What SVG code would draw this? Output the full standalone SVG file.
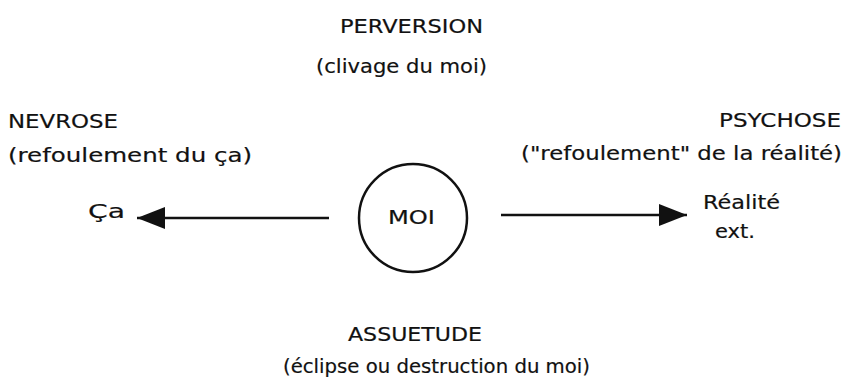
<svg xmlns="http://www.w3.org/2000/svg" width="848" height="389" viewBox="0 0 848 389">
  <style>
    text { font-family: "DejaVu Sans", "Liberation Sans", sans-serif; font-size: 20px; fill: #111; stroke: #111; stroke-width: 0.2; }
    .edge { stroke: #111; stroke-width: 2.5; fill: none; }
  </style>
  <defs>
    <marker id="head" markerUnits="userSpaceOnUse" markerWidth="28" markerHeight="24" refX="28" refY="12" orient="auto">
      <path d="M0,1 L28,12 L0,23 Z" fill="#111"/>
    </marker>
  </defs>
  <rect width="848" height="389" fill="#fff"/>

  <g id="perversion">
    <text x="340" y="33" textLength="143" lengthAdjust="spacingAndGlyphs">PERVERSION</text>
    <text x="316" y="73" textLength="171" lengthAdjust="spacingAndGlyphs">(clivage du moi)</text>
  </g>

  <g id="nevrose">
    <text x="8" y="128" textLength="110" lengthAdjust="spacingAndGlyphs">NEVROSE</text>
    <text x="8" y="162" textLength="244" lengthAdjust="spacingAndGlyphs">(refoulement du ça)</text>
  </g>

  <g id="psychose">
    <text x="719" y="127" textLength="122" lengthAdjust="spacingAndGlyphs">PSYCHOSE</text>
    <text x="521" y="160" textLength="321" lengthAdjust="spacingAndGlyphs">("refoulement" de la réalité)</text>
  </g>

  <g id="moi">
    <circle cx="413" cy="218" r="54" class="edge"/>
    <text x="388" y="224" textLength="47" lengthAdjust="spacingAndGlyphs">MOI</text>
  </g>

  <g id="ca">
    <text x="88" y="218" textLength="37" lengthAdjust="spacingAndGlyphs">Ça</text>
  </g>

  <g id="realite">
    <text x="703" y="209" textLength="77" lengthAdjust="spacingAndGlyphs">Réalité</text>
    <text x="715" y="238" textLength="40" lengthAdjust="spacingAndGlyphs">ext.</text>
  </g>

  <g id="assuetude">
    <text x="348" y="341" textLength="134" lengthAdjust="spacingAndGlyphs">ASSUETUDE</text>
    <text x="283" y="373" textLength="307" lengthAdjust="spacingAndGlyphs">(éclipse ou destruction du moi)</text>
  </g>

  <g id="connectors">
    <line class="edge" x1="329" y1="218" x2="137" y2="218" marker-end="url(#head)"/>
    <line class="edge" x1="501" y1="215" x2="687" y2="215" marker-end="url(#head)"/>
  </g>
</svg>
